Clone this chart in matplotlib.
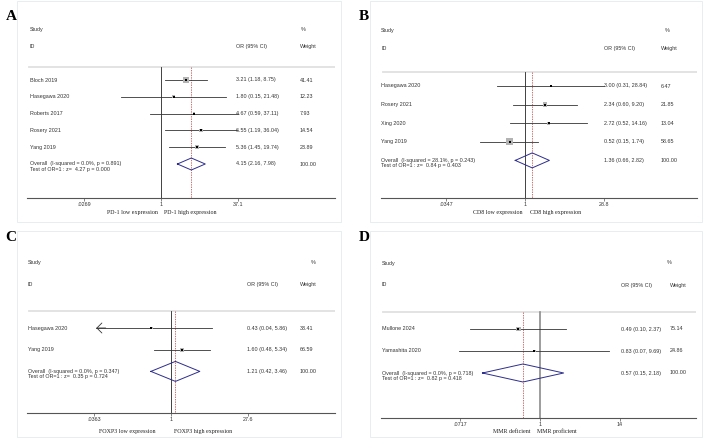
import matplotlib
matplotlib.use('Agg')
import matplotlib.pyplot as plt
from matplotlib.patches import Rectangle
from matplotlib.ticker import NullLocator
import numpy as np

FIG_W, FIG_H = 705, 440
SANS = 'Liberation Sans'
SERIF = 'Liberation Serif'
TXT = '#333333'
plt.rcParams['font.family'] = SANS

# ---- panel A: PD-1
a_study = ['Bloch 2019', 'Hasegawa 2020', 'Roberts 2017', 'Rosery 2021', 'Yang 2019']
a_or = [3.21, 1.80, 4.67, 6.55, 5.36]
a_lo = [1.18, 0.15, 0.59, 1.19, 1.45]
a_hi = [8.75, 21.48, 37.11, 36.04, 19.74]
a_wt = [41.41, 12.23, 7.93, 14.54, 23.89]
a_arrow = [False, False, False, False, False]
a_overall = [4.15, 2.16, 7.98]
a_het = 'Overall  (I-squared = 0.0%, p = 0.891)'
a_test = 'Test of OR=1 : z=  4.27 p = 0.000'
a_ticks = [0.0269, 1, 37.1]
a_ticklabels = ['.0269', '1', '37.1']
a_favours = ['PD-1 low expression', 'PD-1 high expression']

# ---- panel B: CD8
b_study = ['Hasegawa 2020', 'Rosery 2021', 'Xing 2020', 'Yang 2019']
b_or = [3.00, 2.34, 2.72, 0.52]
b_lo = [0.31, 0.60, 0.52, 0.15]
b_hi = [28.84, 9.20, 14.16, 1.74]
b_wt = [6.47, 21.85, 13.04, 58.65]
b_arrow = [False, False, False, False]
b_overall = [1.36, 0.66, 2.82]
b_het = 'Overall  (I-squared = 28.1%, p = 0.243)'
b_test = 'Test of OR=1 : z=  0.84 p = 0.403'
b_ticks = [0.0347, 1, 28.8]
b_ticklabels = ['.0347', '1', '28.8']
b_favours = ['CD8 low expression', 'CD8 high expression']

# ---- panel C: FOXP3
c_study = ['Hasegawa 2020', 'Yang 2019']
c_or = [0.43, 1.60]
c_lo = [0.04, 0.48]
c_hi = [5.86, 5.34]
c_wt = [33.41, 66.59]
c_arrow = [True, False]
c_overall = [1.21, 0.42, 3.46]
c_het = 'Overall  (I-squared = 0.0%, p = 0.347)'
c_test = 'Test of OR=1 : z=  0.35 p = 0.724'
c_ticks = [0.0363, 1, 27.6]
c_ticklabels = ['.0363', '1', '27.6']
c_favours = ['FOXP3 low expression', 'FOXP3 high expression']

# ---- panel D: MMR
d_study = ['Mullone 2024', 'Yamashita 2020']
d_or = [0.49, 0.83]
d_lo = [0.10, 0.07]
d_hi = [2.37, 9.69]
d_wt = [75.14, 24.86]
d_arrow = [False, False]
d_overall = [0.57, 0.15, 2.18]
d_het = 'Overall  (I-squared = 0.0%, p = 0.718)'
d_test = 'Test of OR=1 : z=  0.82 p = 0.418'
d_ticks = [0.0717, 1, 14]
d_ticklabels = ['.0717', '1', '14']
d_favours = ['MMR deficient', 'MMR proficient']

# pixel layout of each panel
LAYOUT = {
    'A': dict(box=(17, 1, 341, 222), ax_l=27, ax_r=335, ax_y=198, x1=161, xr=238,
              y0=80, s=16.8, col_id=30, col_or=236, col_wt=300, col_pct=301,
              fav_x=(132, 190), fav_y=212, letter=(11, 17), box_k=0.93, dia_h=6,
              null_c='#222222', null_lw=0.6),
    'B': dict(box=(370, 1, 702, 222), ax_l=381, ax_r=697, ax_y=198, x1=525, xr=604,
              y0=86, s=18.6, col_id=381, col_or=604, col_wt=661, col_pct=665,
              fav_x=(498, 556), fav_y=212, letter=(364, 17), box_k=0.91, dia_h=7.5,
              null_c='#222222', null_lw=0.6),
    'C': dict(box=(17, 231, 341, 437), ax_l=27, ax_r=335, ax_y=413, x1=171, xr=248,
              y0=328, s=21.7, col_id=28, col_or=247, col_wt=300, col_pct=311,
              fav_x=(127, 203), fav_y=431, letter=(11, 237), box_k=0.5, dia_h=10,
              null_c='#222222', null_lw=0.6),
    'D': dict(box=(370, 231, 702, 437), ax_l=381, ax_r=696, ax_y=418, x1=540, xr=620,
              y0=329, s=22.0, col_id=382, col_or=621, col_wt=670, col_pct=667,
              fav_x=(512, 557), fav_y=431, letter=(364, 237), box_k=0.5, dia_h=9,
              null_c='#8c8c8c', null_lw=1.2),
}


def fx(px):
    return px / FIG_W


def fy(py):
    return 1 - py / FIG_H


def draw_panel(fig, letter, lay, study, est, lo, hi, wt, arrow, overall, het, test,
               ticks, ticklabels, favours):
    l, t, r, b = lay['box']
    fig.add_artist(Rectangle((fx(l), fy(b)), (r - l) / FIG_W, (b - t) / FIG_H,
                             transform=fig.transFigure, fill=False, ec='#e3ebee', lw=0.6))
    fig.text(fx(lay['letter'][0]), fy(lay['letter'][1]), letter, family=SERIF,
             weight='bold', fontsize=11, ha='center', va='center')

    top = t + 1
    ax = fig.add_axes([fx(lay['ax_l']), fy(lay['ax_y']),
                       (lay['ax_r'] - lay['ax_l']) / FIG_W, (lay['ax_y'] - top) / FIG_H])
    k = (lay['xr'] - lay['x1']) / np.log(ticks[-1])

    def px2x(px):
        return np.exp((px - lay['x1']) / k)

    def px2row(py):
        return (py - lay['y0']) / lay['s']

    ax.set_xscale('log')
    ax.set_xlim(px2x(lay['ax_l']), px2x(lay['ax_r']))
    bottom_row = px2row(lay['ax_y'])
    ax.set_ylim(bottom_row, px2row(top))
    ax.patch.set_visible(False)
    for sp in ['top', 'left', 'right']:
        ax.spines[sp].set_visible(False)
    ax.spines['bottom'].set_color('#555555')
    ax.spines['bottom'].set_linewidth(0.8)
    ax.set_yticks([])
    ax.set_xticks(ticks)
    ax.set_xticklabels(ticklabels)
    ax.xaxis.set_minor_locator(NullLocator())
    ax.tick_params(axis='x', length=2.2, width=0.5, color='#555555', pad=0.8,
                   labelsize=3.9, labelcolor=TXT)

    fs = 3.9
    x_id, x_or, x_wt, x_pct = (px2x(lay[c]) for c in ['col_id', 'col_or', 'col_wt', 'col_pct'])

    # headers
    ax.text(x_id, -3, 'Study', fontsize=fs, color=TXT, va='center')
    ax.text(x_id, -2, 'ID', fontsize=fs, color=TXT, va='center')
    ax.text(x_or, -2, 'OR (95% CI)', fontsize=fs, color=TXT, va='center')
    ax.text(x_pct, -3, '%', fontsize=fs, color=TXT, va='center')
    ax.text(x_wt, -2, 'Weight', fontsize=fs, color=TXT, va='center')

    sep = -0.77
    ax.plot([px2x(lay['ax_l'] + 2), px2x(lay['ax_r'])], [sep, sep], color='#e0e0e0', lw=1.3)

    n = len(study)
    ax.plot([1, 1], [sep, bottom_row], color=lay['null_c'], lw=lay['null_lw'])
    ax.plot([overall[0], overall[0]], [sep, bottom_row], color='#b83a3a', lw=0.5,
            dashes=(2, 1.5))

    rows = np.arange(n)
    for i in range(n):
        if arrow[i]:
            ax.plot([lo[i], hi[i]], [i, i], color='#333333', lw=0.6)
            ax.annotate('', xy=(lo[i], i), xytext=(lo[i] * 1.5, i),
                        arrowprops=dict(arrowstyle='->,head_length=0.36,head_width=0.36',
                                        color='#333333', lw=0.6, shrinkA=0, shrinkB=0))
        else:
            ax.plot([lo[i], hi[i]], [i, i], color='#333333', lw=0.6)
    side = lay['box_k'] * np.sqrt(np.array(wt)) * 0.72
    ax.scatter(est, rows, s=side ** 2, marker='s', color='#b3b3b3', lw=0, zorder=3)
    ax.plot(est, rows, 's', color='black', ms=1.7, mew=0, zorder=4)

    for i in range(n):
        ax.text(x_id, i, study[i], fontsize=fs, color=TXT, va='center')
        ax.text(x_or, i, '%.2f (%.2f, %.2f)' % (est[i], lo[i], hi[i]), fontsize=fs,
                color=TXT, va='center')
        ax.text(x_wt, i, '%.2f' % wt[i], fontsize=fs, color=TXT, va='center')

    h = lay['dia_h'] / lay['s']
    ax.plot([overall[1], overall[0], overall[2], overall[0], overall[1]],
            [n, n - h, n, n + h, n], color='#2d2d8e', lw=0.7)
    ax.text(x_id, n, het, fontsize=fs, color=TXT, va='center')
    ax.text(x_id, n + 5.5 / lay['s'], test, fontsize=fs, color=TXT, va='center')
    ax.text(x_or, n, '%.2f (%.2f, %.2f)' % tuple(overall), fontsize=fs, color=TXT,
            va='center')
    ax.text(x_wt, n, '100.00', fontsize=fs, color=TXT, va='center')

    for j in range(2):
        fig.text(fx(lay['fav_x'][j]), fy(lay['fav_y']), favours[j], family=SERIF,
                 fontsize=4.3, color='#222222', ha='center', va='center')


fig = plt.figure(figsize=(FIG_W / 100, FIG_H / 100), dpi=100)
draw_panel(fig, 'A', LAYOUT['A'], a_study, a_or, a_lo, a_hi, a_wt, a_arrow, a_overall,
           a_het, a_test, a_ticks, a_ticklabels, a_favours)
draw_panel(fig, 'B', LAYOUT['B'], b_study, b_or, b_lo, b_hi, b_wt, b_arrow, b_overall,
           b_het, b_test, b_ticks, b_ticklabels, b_favours)
draw_panel(fig, 'C', LAYOUT['C'], c_study, c_or, c_lo, c_hi, c_wt, c_arrow, c_overall,
           c_het, c_test, c_ticks, c_ticklabels, c_favours)
draw_panel(fig, 'D', LAYOUT['D'], d_study, d_or, d_lo, d_hi, d_wt, d_arrow, d_overall,
           d_het, d_test, d_ticks, d_ticklabels, d_favours)
fig.savefig('out.png', dpi=100)
